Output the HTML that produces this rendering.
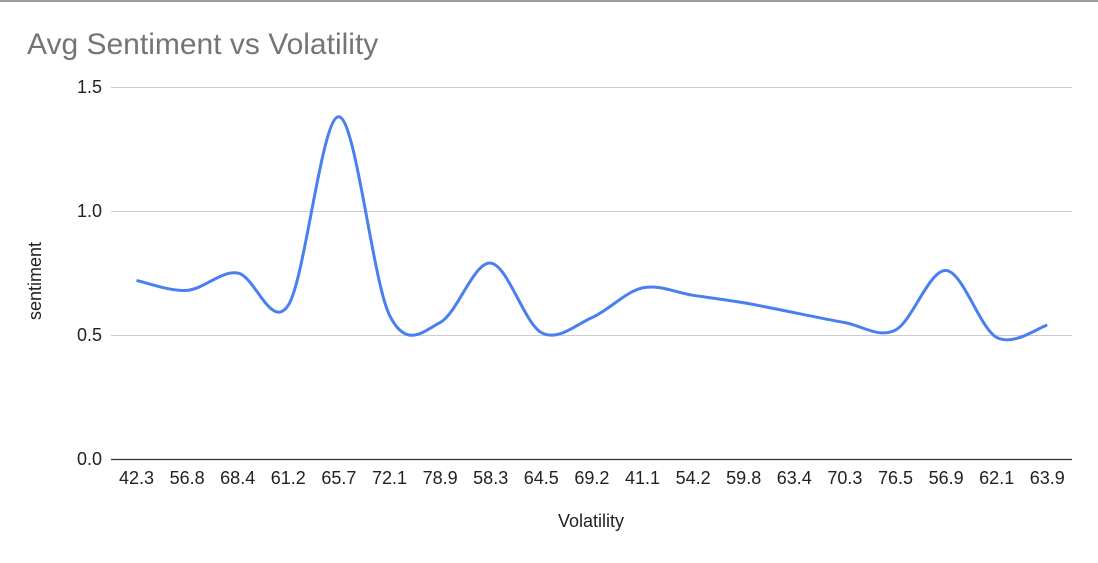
<!DOCTYPE html>
<html><head><style>
body{margin:0;background:#fff;font-family:"Liberation Sans",Arial,sans-serif}
</style></head><body>
<svg width="1098" height="558" xmlns="http://www.w3.org/2000/svg" font-family="Liberation Sans, Arial, sans-serif">
<rect x="0" y="0" width="1098" height="2" fill="#9e9e9e"/>
<text x="27" y="54" font-size="30" fill="#757575">Avg Sentiment vs Volatility</text>
<g stroke="#cccccc" stroke-width="1">
<line x1="111" y1="87.5" x2="1072" y2="87.5"/>
<line x1="111" y1="211.5" x2="1072" y2="211.5"/>
<line x1="111" y1="335.5" x2="1072" y2="335.5"/>
</g>
<line x1="111" y1="459.5" x2="1072" y2="459.5" stroke="#333" stroke-width="1.3"/>
<g font-size="18" fill="#222" text-anchor="end">
<text x="102" y="93">1.5</text><text x="102" y="217">1.0</text>
<text x="102" y="341">0.5</text><text x="102" y="465">0.0</text>
</g>
<text transform="translate(41,281) rotate(-90)" font-size="18" fill="#222" text-anchor="middle">sentiment</text>
<text x="591" y="527" font-size="18" fill="#222" text-anchor="middle">Volatility</text>
<g id="xl" font-size="18" fill="#222" text-anchor="middle"></g>
<path id="ln" fill="none" stroke="#4a7ff0" stroke-width="3"/>
</svg>
<script>
var labs=["42.3","56.8","68.4","61.2","65.7","72.1","78.9","58.3","64.5","69.2","41.1","54.2","59.8","63.4","70.3","76.5","56.9","62.1","63.9"];
var vals=[0.72,0.68,0.75,0.62,1.38,0.58,0.55,0.79,0.51,0.57,0.69,0.66,0.63,0.59,0.55,0.52,0.76,0.49,0.54];
var g=document.getElementById("xl"),s="";
var pts=[];
for(var i=0;i<19;i++){var x=136.5+i*50.6;s+='<text x="'+x+'" y="484">'+labs[i]+'</text>';pts.push([x,459-vals[i]*248]);}
g.innerHTML=s;
var d="M"+pts[0][0]+","+pts[0][1];
for(var i=0;i<18;i++){var p0=pts[Math.max(0,i-1)],p1=pts[i],p2=pts[i+1],p3=pts[Math.min(18,i+2)];
var c1=[p1[0]+(p2[0]-p0[0])/6,p1[1]+(p2[1]-p0[1])/6],c2=[p2[0]-(p3[0]-p1[0])/6,p2[1]-(p3[1]-p1[1])/6];
d+=" C"+c1+" "+c2+" "+p2;}
document.getElementById("ln").setAttribute("d",d);
</script>
</body></html>
